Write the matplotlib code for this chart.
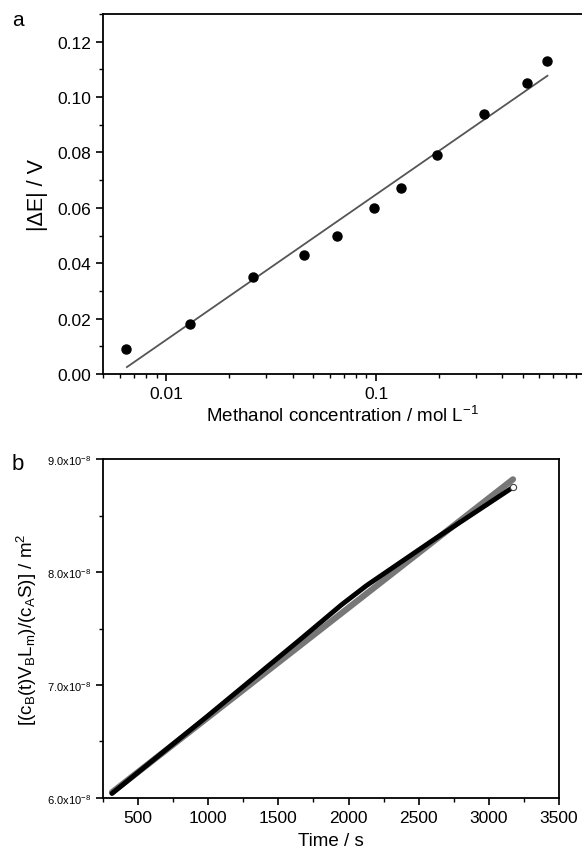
import matplotlib
matplotlib.use("Agg")
import matplotlib.pyplot as plt
from matplotlib.ticker import MultipleLocator, LogLocator, FixedLocator, FixedFormatter, NullFormatter

plt.rcParams['font.family'] = ['Liberation Sans', 'DejaVu Sans']
plt.rcParams['mathtext.fontset'] = 'custom'
plt.rcParams['mathtext.rm'] = 'Liberation Sans'
plt.rcParams['mathtext.it'] = 'Liberation Sans'

# Panel a data
conc = [0.0064, 0.013, 0.026, 0.0454, 0.065, 0.098, 0.131, 0.196, 0.328, 0.524, 0.655]
dE = [0.009, 0.018, 0.035, 0.043, 0.050, 0.060, 0.067, 0.079, 0.094, 0.105, 0.113]
fit_conc = [0.0065, 0.655]
fit_dE = [0.0025, 0.1077]

# Panel b data
time_s = [314, 1000, 1653, 1950, 2128, 2600, 3172]
area = [6.04e-8, 6.73e-8, 7.40e-8, 7.71e-8, 7.88e-8, 8.28e-8, 8.75e-8]
fit_time = [314, 3172]
fit_area = [6.05e-8, 8.82e-8]
ytick_b_labels = ['6.0x10$^{\\mathregular{-8}}$', '7.0x10$^{\\mathregular{-8}}$',
                  '8.0x10$^{\\mathregular{-8}}$', '9.0x10$^{\\mathregular{-8}}$']

W, H = 582, 853
fig = plt.figure(figsize=(W/100, H/100), dpi=100)

# ---- Panel a ----
ax1 = fig.add_axes([103/W, 1-375/H, 1-103/W, (375-15)/H])
ax1.set_xscale('log')
ax1.plot(fit_conc, fit_dE, color='#555555', lw=1.3)
ax1.plot(conc, dE, 'o', color='black', ms=6.5)
ax1.set_xlim(0.005, 0.957)
ax1.set_ylim(0, 0.13)
ax1.yaxis.set_major_locator(MultipleLocator(0.02))
ax1.yaxis.set_minor_locator(MultipleLocator(0.01))
ax1.yaxis.set_major_formatter(matplotlib.ticker.FormatStrFormatter('%.2f'))
ax1.xaxis.set_major_locator(FixedLocator([0.01, 0.1]))
ax1.xaxis.set_major_formatter(FixedFormatter(['0.01', '0.1']))
ax1.xaxis.set_minor_locator(LogLocator(base=10, subs=range(2, 10)))
ax1.xaxis.set_minor_formatter(NullFormatter())
ax1.spines['right'].set_visible(False)
for s in ['left', 'bottom', 'top']:
    ax1.spines[s].set_linewidth(1.3)
ax1.tick_params(which='major', direction='out', length=5, width=1.2, labelsize=12.5)
ax1.tick_params(which='minor', direction='out', length=3, width=1.0)
ax1.set_xlabel('Methanol concentration / mol L$^{\\mathregular{-1}}$', fontsize=13.5, labelpad=3)
ax1.set_ylabel('|ΔE| / V', fontsize=15.5, labelpad=7)
fig.text(12/W, 1-20/H, 'a', fontsize=15, va='center', ha='left')

# ---- Panel b ----
ax2 = fig.add_axes([103/W, 1-799/H, (559-103)/W, (799-460)/H])
ax2.plot(fit_time, fit_area, color='#777777', lw=4.5, solid_capstyle='round')
ax2.plot(time_s, area, color='black', lw=3.5, solid_capstyle='round')
ax2.plot([time_s[-1]], [area[-1]], 'o', mfc='white', mec='#444444', ms=4.5, mew=0.8)
ax2.set_xlim(250, 3500)
ax2.set_ylim(6e-8, 9e-8)
ax2.xaxis.set_major_locator(MultipleLocator(500))
ax2.xaxis.set_minor_locator(MultipleLocator(250))
ax2.yaxis.set_major_locator(FixedLocator([6e-8, 7e-8, 8e-8, 9e-8]))
ax2.yaxis.set_major_formatter(FixedFormatter(ytick_b_labels))
ax2.yaxis.set_minor_locator(MultipleLocator(0.5e-8))
for s in ax2.spines.values():
    s.set_linewidth(1.3)
ax2.tick_params(which='major', direction='out', length=5, width=1.2, labelsize=12.5)
ax2.tick_params(axis='y', which='major', labelsize=8)
ax2.tick_params(which='minor', direction='out', length=3, width=1.0)
ax2.set_xlabel('Time / s', fontsize=13.5, labelpad=5)
ax2.set_ylabel('[(c$_\\mathregular{B}$(t)V$_\\mathregular{B}$L$_\\mathregular{m}$)/(c$_\\mathregular{A}$S)] / m$^\\mathregular{2}$',
               fontsize=13.5, labelpad=6)
fig.text(12/W, 1-465/H, 'b', fontsize=16, va='center', ha='left')

fig.savefig('out.png', dpi=100)
